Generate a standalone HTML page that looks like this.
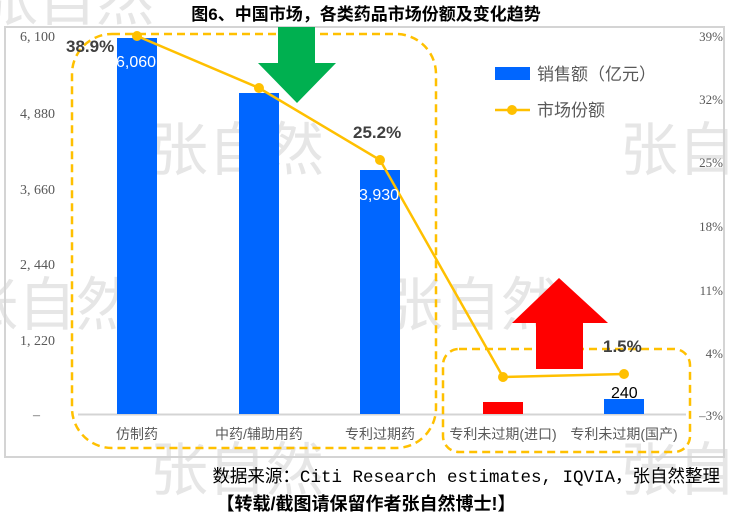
<!DOCTYPE html>
<html><head><meta charset="utf-8"><style>
body{margin:0;background:#fff;}
svg{display:block;font-family:"Liberation Sans","Noto Sans CJK SC",sans-serif;}
</style></head><body>
<svg width="733" height="518" viewBox="0 0 733 518" xmlns="http://www.w3.org/2000/svg">
<rect x="0" y="0" width="733" height="518" fill="#fff"/>
<g fill="#e6e6e6" font-family="Noto Sans CJK SC,sans-serif" font-size="58">
<text x="-20" y="20">张自然</text>
<text x="150" y="170">张自然</text>
<text x="-40" y="325">张自然</text>
<text x="385" y="325">张自然</text>
<text x="620" y="170">张自然</text>
<text x="150" y="490">张自然</text>
<text x="620" y="490">张自然</text>
</g>
<rect x="5" y="27" width="719" height="430" fill="none" stroke="#d4d4d4" stroke-width="2"/>
<text x="366" y="20" text-anchor="middle" font-size="17" font-weight="bold" fill="#000">图6、中国市场，各类药品市场份额及变化趋势</text>
<g font-family="Liberation Serif,Noto Serif CJK SC,serif" font-size="14" fill="#595959" text-anchor="end">
<text x="55" y="41">6, 100</text>
<text x="55" y="118">4, 880</text>
<text x="55" y="194">3, 660</text>
<text x="55" y="269">2, 440</text>
<text x="55" y="345">1, 220</text>
<text x="40" y="419">–</text>
</g>
<g font-family="Liberation Serif,serif" font-size="13" fill="#595959" text-anchor="end">
<text x="723" y="41">39%</text>
<text x="723" y="104">32%</text>
<text x="723" y="167">25%</text>
<text x="723" y="231">18%</text>
<text x="723" y="295">11%</text>
<text x="723" y="358">4%</text>
<text x="723" y="420">–3%</text>
</g>
<line x1="78" y1="414.5" x2="686" y2="414.5" stroke="#d4d4d4" stroke-width="2"/>
<rect x="117" y="38" width="40" height="376" fill="#0066ff"/>
<rect x="239" y="93" width="40" height="321" fill="#0066ff"/>
<rect x="360" y="170" width="40" height="244" fill="#0066ff"/>
<rect x="483" y="402" width="40" height="12" fill="#ff0000"/>
<rect x="604" y="399" width="40" height="15" fill="#0066ff"/>
<rect x="72" y="34" width="364" height="414" rx="40" fill="none" stroke="#ffc000" stroke-width="2.5" stroke-dasharray="8,5"/>
<rect x="443" y="349" width="247" height="103" rx="16" fill="none" stroke="#ffc000" stroke-width="2.5" stroke-dasharray="8,5"/>
<polygon points="278,27 315,27 315,63 336,63 297,103 258,63 278,63" fill="#00b050"/>
<polygon points="559,278 608,323 583,323 583,369 536,369 536,323 512,323" fill="#ff0000"/>
<polyline points="137,36 259,88 380,160 503,377 624,374" fill="none" stroke="#ffc000" stroke-width="2.5"/>
<g fill="#ffc000"><circle cx="137" cy="36" r="5"/><circle cx="259" cy="88" r="5"/><circle cx="380" cy="160" r="5"/><circle cx="503" cy="377" r="5"/><circle cx="624" cy="374" r="5"/></g>
<g font-size="17" font-weight="bold" fill="#404040">
<text x="66" y="52">38.9%</text>
<text x="353" y="138">25.2%</text>
<text x="603" y="352">1.5%</text>
</g>
<g font-size="16" fill="#fff"><text x="116" y="67">6,060</text><text x="359" y="200">3,930</text></g>
<text x="611" y="398" font-size="16" fill="#000">240</text>
<g font-size="14" fill="#595959" text-anchor="middle">
<text x="137" y="439">仿制药</text>
<text x="259" y="439">中药/辅助用药</text>
<text x="380" y="439">专利过期药</text>
<text x="503" y="439">专利未过期(进口)</text>
<text x="624" y="439">专利未过期(国产)</text>
</g>
<rect x="495" y="67" width="35" height="13" fill="#0066ff"/>
<text x="537" y="80" font-size="17" fill="#595959">销售额（亿元）</text>
<line x1="495" y1="110" x2="530" y2="110" stroke="#ffc000" stroke-width="2.5"/>
<circle cx="512" cy="110" r="5" fill="#ffc000"/>
<text x="537" y="116" font-size="17" fill="#595959">市场份额</text>
<text x="720" y="482" text-anchor="end" font-family="Liberation Mono,Noto Sans CJK SC,monospace" font-size="17.5" fill="#000">数据来源：Citi Research estimates, IQVIA，张自然整理</text>
<text x="366" y="510" text-anchor="middle" font-size="18" font-weight="bold" fill="#000">【转载/截图请保留作者张自然博士!】</text>
</svg>
</body></html>
